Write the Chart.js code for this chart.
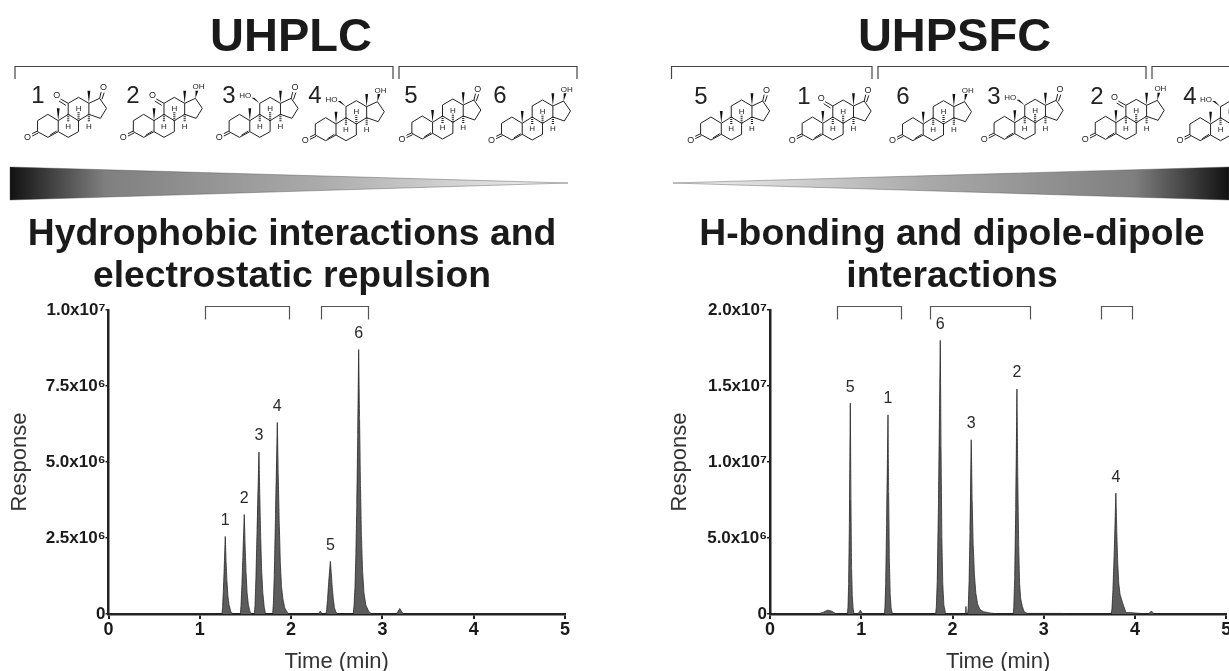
<!DOCTYPE html>
<html>
<head>
<meta charset="utf-8">
<title>UHPLC vs UHPSFC</title>
<script src="https://cdn.jsdelivr.net/npm/chart.js@4"></script>
<style>
  html, body { margin: 0; padding: 0; background: #fff; overflow: hidden; width: 1229px; height: 671px; }
  body { position: relative; font-family: "Liberation Sans", Arial, sans-serif; color: #1a1a1a; }
  #art { position: absolute; left: 0; top: 0; filter: grayscale(1); }
  .plot { position: absolute; top: 290px; width: 600px; height: 385px; }
  .head { position: absolute; text-align: center; font-weight: bold; filter: grayscale(1); }
  .big { font-size: 47px; line-height: 50px; top: 10px; }
  .sub { font-size: 37.3px; line-height: 41.5px; top: 212px; white-space: nowrap; }
</style>
</head>
<body>
<svg id="art" width="1229" height="671" xmlns="http://www.w3.org/2000/svg">
  <defs>
    <linearGradient id="fadeL" x1="0" x2="1" y1="0" y2="0">
      <stop offset="0" stop-color="#111"/>
      <stop offset="0.17" stop-color="#7f7f7f"/>
      <stop offset="0.55" stop-color="#aaa"/>
      <stop offset="0.9" stop-color="#e4e4e4"/>
      <stop offset="1" stop-color="#eee"/>
    </linearGradient>
    <linearGradient id="fadeR" x1="1" x2="0" y1="0" y2="0">
      <stop offset="0" stop-color="#111"/>
      <stop offset="0.17" stop-color="#7f7f7f"/>
      <stop offset="0.55" stop-color="#aaa"/>
      <stop offset="0.9" stop-color="#e4e4e4"/>
      <stop offset="1" stop-color="#eee"/>
    </linearGradient>
  </defs>
  <polygon points="10,167 568,183 10,200" fill="url(#fadeL)" stroke="#444" stroke-width="0.4"/>
  <polygon points="673,183 1229,167 1229,200" fill="url(#fadeR)" stroke="#444" stroke-width="0.4"/>
</svg>

<div class="head big" style="left:0;width:582px">UHPLC</div>
<div class="head big" style="left:660px;width:589px">UHPSFC</div>
<div class="head sub" style="left:0;width:584px">Hydrophobic interactions and<br>electrostatic repulsion</div>
<div class="head sub" style="left:660px;width:584px">H-bonding and dipole-dipole<br>interactions</div>

<div class="plot" style="left:0"><canvas id="lcChart" width="600" height="385"></canvas></div>
<div class="plot" style="left:660px"><canvas id="sfcChart" width="600" height="385"></canvas></div>

<script>
// response in counts, time in min
const timesLC = [0, 1.243, 1.25, 1.258, 1.266, 1.279, 1.288, 1.297, 1.308, 1.32, 1.34, 1.365,
  1.444, 1.452, 1.462, 1.472, 1.487, 1.496, 1.506, 1.518, 1.532, 1.55, 1.57,
  1.597, 1.605, 1.615, 1.628, 1.648, 1.657, 1.667, 1.678, 1.69, 1.705, 1.72,
  1.798, 1.806, 1.816, 1.83, 1.849, 1.859, 1.87, 1.882, 1.895, 1.91, 1.93, 1.96, 1.98,
  2.30, 2.32, 2.34, 2.382, 2.39, 2.40, 2.412, 2.43, 2.44, 2.45, 2.462, 2.475, 2.49, 2.51,
  2.68, 2.69, 2.70, 2.71, 2.72, 2.73, 2.74, 2.75, 2.76, 2.77, 2.783, 2.798, 2.818, 2.848, 2.88,
  3.155, 3.17, 3.19, 3.21, 3.23, 5];
const respLC = [0, 0, 250000, 750000, 1400000, 2550000, 1700000, 1100000, 600000, 300000, 80000, 0,
  0, 300000, 1000000, 1900000, 3270000, 2300000, 1400000, 700000, 300000, 80000, 0,
  0, 300000, 1200000, 2800000, 5330000, 3900000, 2500000, 1400000, 700000, 250000, 0,
  0, 350000, 1300000, 3300000, 6300000, 4600000, 3000000, 1700000, 900000, 500000, 200000, 50000, 0,
  0, 100000, 0, 0, 150000, 500000, 1050000, 1730000, 1350000, 900000, 500000, 200000, 70000, 0,
  0, 300000, 900000, 2000000, 3600000, 5900000, 8700000, 6400000, 4200000, 2600000, 1400000, 700000, 300000, 100000, 0,
  0, 80000, 180000, 80000, 0, 0];

const timesSFC = [0, 0.52, 0.58, 0.63, 0.67, 0.72, 0.76,
  0.848, 0.855, 0.862, 0.87, 0.88, 0.887, 0.894, 0.902, 0.91, 0.92,
  0.97, 0.99, 1.01, 1.03,
  1.253, 1.26, 1.268, 1.278, 1.293, 1.30, 1.308, 1.317, 1.327, 1.342,
  1.815, 1.823, 1.833, 1.847, 1.866, 1.874, 1.883, 1.893, 1.905, 1.925,
  2.143, 2.147, 2.151,
  2.165, 2.172, 2.182, 2.192, 2.205, 2.215, 2.226, 2.24, 2.255, 2.275, 2.30, 2.34, 2.42, 2.5,
  2.665, 2.672, 2.682, 2.693, 2.706, 2.715, 2.725, 2.735, 2.747, 2.765, 2.785, 2.82, 3.2, 3.3,
  3.74, 3.748, 3.758, 3.772, 3.79, 3.80, 3.81, 3.822, 3.835, 3.85, 3.865, 3.88, 3.9, 3.93, 4.05, 4.15, 4.18, 4.21, 5];
const respSFC = [0, 0, 100000, 250000, 200000, 30000, 0,
  0, 500000, 2000000, 6000000, 13870000, 7500000, 3000000, 1200000, 400000, 0,
  50000, 250000, 50000, 0,
  0, 500000, 2000000, 6000000, 13100000, 8000000, 3500000, 1300000, 400000, 0,
  0, 500000, 2200000, 7500000, 18000000, 11000000, 5000000, 2000000, 600000, 0,
  0, 500000, 0,
  0, 400000, 2200000, 5500000, 11460000, 7500000, 4600000, 2600000, 1400000, 650000, 300000, 150000, 60000, 0,
  0, 500000, 2500000, 7000000, 14800000, 9000000, 4500000, 2000000, 1000000, 500000, 150000, 40000, 40000, 0,
  0, 400000, 1600000, 4000000, 7950000, 5400000, 3400000, 2000000, 1300000, 1000000, 700000, 450000, 100000, 100000, 40000, 20000, 200000, 0, 0];

const peakNamesLC = ["1", "2", "3", "4", "5", "6"];
const peakTimesLC = [1.279, 1.487, 1.648, 1.849, 2.43, 2.74];
const peakTopsLC = [2550000, 3270000, 5330000, 6300000, 1730000, 8700000];
const peakNamesSFC = ["5", "1", "6", "3", "2", "4"];
const peakTimesSFC = [0.88, 1.293, 1.866, 2.205, 2.706, 3.79];
const peakTopsSFC = [13870000, 13100000, 18000000, 11460000, 14800000, 7950000];

const bracketsLC = [[1.062, 1.973], [2.33, 2.842]];
const bracketsSFC = [[0.738, 1.433], [1.758, 2.853], [3.627, 3.968]];

const yTicksLC = [0, 2500000, 5000000, 7500000, 10000000];
const yLabelsLC = ["0", "2.5x10⁶", "5.0x10⁶", "7.5x10⁶", "1.0x10⁷"];
const yTicksSFC = [0, 5000000, 10000000, 15000000, 20000000];
const yLabelsSFC = ["0", "5.0x10⁶", "1.0x10⁷", "1.5x10⁷", "2.0x10⁷"];
const xTicks = [0, 1, 2, 3, 4, 5];

const axisColor = "#222";
const fontName = "'Liberation Sans', Arial, sans-serif";

// peak numbers and the small brackets above each run
const peakMarks = {
  id: "peakMarks",
  afterDatasetsDraw(chart, args, opts) {
    const ctx = chart.ctx;
    const x = chart.scales.x, y = chart.scales.y;
    ctx.save();
    ctx.fillStyle = "#2a2a2a";
    ctx.font = "16px " + fontName;
    ctx.textAlign = "center";
    ctx.textBaseline = "bottom";
    opts.names.forEach((name, i) => {
      ctx.fillText(name, x.getPixelForValue(opts.times[i]), y.getPixelForValue(opts.tops[i]) - 8);
    });
    ctx.strokeStyle = "#555";
    ctx.lineWidth = 1.2;
    const top = y.top - 3.5;
    opts.brackets.forEach(b => {
      const a = Math.round(x.getPixelForValue(b[0])) + 0.5;
      const c = Math.round(x.getPixelForValue(b[1])) + 0.5;
      ctx.beginPath();
      ctx.moveTo(a, top + 13);
      ctx.lineTo(a, top);
      ctx.lineTo(c, top);
      ctx.lineTo(c, top + 13);
      ctx.stroke();
    });
    ctx.restore();
  }
};

function makeChart(id, times, resp, yMax, yTicks, yLabels, marks, axisWidth, rightPad) {
  new Chart(document.getElementById(id), {
    type: "line",
    data: {
      datasets: [{
        data: times.map((t, i) => ({ x: t, y: resp[i] })),
        borderColor: "#262626",
        borderWidth: 0.8,
        backgroundColor: "#5c5c5c",
        fill: "origin",
        pointRadius: 0,
        tension: 0.001 // tension 0 takes the fast path, which merges points in one pixel column
      }]
    },
    options: {
      responsive: false,
      animation: false,
      layout: { padding: { top: 20, right: rightPad, left: 0, bottom: 0 } },
      plugins: { legend: { display: false }, tooltip: { enabled: false }, peakMarks: marks },
      scales: {
        x: {
          type: "linear", min: 0, max: 5,
          afterFit: s => { s.height = 61; },
          afterBuildTicks: s => { s.ticks = xTicks.map(v => ({ value: v })); },
          grid: { drawOnChartArea: false, color: axisColor, lineWidth: 2, tickLength: 5 },
          border: { color: axisColor, width: 2.5 },
          ticks: { color: "#1a1a1a", font: { family: fontName, size: 18, weight: "bold" }, padding: 0, maxRotation: 0, autoSkip: false },
          title: { display: true, text: "Time (min)", color: "#333", font: { family: fontName, size: 22 }, padding: { top: 0, bottom: 0 } }
        },
        y: {
          min: 0, max: yMax,
          afterFit: s => { s.width = axisWidth; },
          afterBuildTicks: s => { s.ticks = yTicks.map(v => ({ value: v })); },
          grid: { drawOnChartArea: false, color: axisColor, lineWidth: 1.5, tickLength: 3 },
          border: { color: axisColor, width: 2.5 },
          ticks: {
            color: "#1a1a1a", font: { family: fontName, size: 17, weight: "bold" }, padding: 0, autoSkip: false,
            callback: v => yLabels[yTicks.indexOf(v)]
          },
          title: { display: true, text: "Response", color: "#333", font: { family: fontName, size: 22 }, padding: { top: 7, bottom: 0 } }
        }
      }
    },
    plugins: [peakMarks]
  });
}

makeChart("lcChart", timesLC, respLC, 10000000, yTicksLC, yLabelsLC,
  { names: peakNamesLC, times: peakTimesLC, tops: peakTopsLC, brackets: bracketsLC }, 108.5, 35);
makeChart("sfcChart", timesSFC, respSFC, 20000000, yTicksSFC, yLabelsSFC,
  { names: peakNamesSFC, times: peakTimesSFC, tops: peakTopsSFC, brackets: bracketsSFC }, 110, 33.7);

// steroid drawings above the charts, skeleton measured on the first molecule
const art = document.getElementById("art");
const NS = "http://www.w3.org/2000/svg";
function add(tag, attrs, text) {
  const el = document.createElementNS(NS, tag);
  Object.keys(attrs).forEach(k => el.setAttribute(k, attrs[k]));
  if (text) el.textContent = text;
  art.appendChild(el);
  return el;
}

const atom = {
  C3: [98, 245], C2: [98, 212], C1: [125, 193], C10: [152, 212], C5: [152, 245], C4: [125, 262],
  C6: [178, 262], C7: [205, 245], C8: [205, 212], C9: [178, 193], C14: [232, 193], C13: [232, 160],
  C12: [205, 142], C11: [178, 160], C15: [262, 205], C16: [278, 175], C17: [260, 145]
};
const bonds = [["C3", "C2"], ["C2", "C1"], ["C1", "C10"], ["C10", "C5"], ["C5", "C4"], ["C4", "C3"],
  ["C5", "C6"], ["C6", "C7"], ["C7", "C8"], ["C8", "C9"], ["C9", "C10"], ["C9", "C11"], ["C11", "C12"],
  ["C12", "C13"], ["C13", "C14"], ["C14", "C8"], ["C14", "C15"], ["C15", "C16"], ["C16", "C17"], ["C17", "C13"]];

function drawMolecule(ox, oy, id) {
  const has11 = id < 5, hydroxy11 = id === 3 || id === 4, hydroxy17 = id % 2 === 0;
  const px = (p) => [ox + p[0] / 2.61, oy + p[1] / 3];
  const line = (a, b, w) => {
    const p = px(a), q = px(b);
    add("line", { x1: p[0], y1: p[1], x2: q[0], y2: q[1], stroke: "#222", "stroke-width": w || 1 });
  };
  const wedge = (a, b) => {
    const p = px(a), q = px(b);
    add("polygon", { points: `${p[0]},${p[1]} ${q[0] - 1.4},${q[1]} ${q[0] + 1.4},${q[1]}`, fill: "#111" });
  };
  const label = (p, t, size) => {
    const q = px(p);
    add("text", { x: q[0], y: q[1] + 2.8, "text-anchor": "middle", "font-size": size || 8, fill: "#222" }, t);
  };
  const hashed = (a, b) => {
    const p = px(a), q = px(b);
    add("line", { x1: p[0], y1: p[1], x2: q[0], y2: q[1], stroke: "#222", "stroke-width": 2.2, "stroke-dasharray": "1 1" });
  };
  bonds.forEach(b => line(atom[b[0]], atom[b[1]]));
  line([84, 251], [98, 243]); line([84, 258], [100, 249]); // C3=O
  label([72, 262], "O", 9);
  line([130, 256], [148, 243]); // C4=C5
  wedge(atom.C13, [232, 122]);
  wedge(atom.C10, [152, 175]);
  hashed(atom.C9, [178, 216]); label([178, 228], "H");
  hashed(atom.C8, [205, 186]); label([205, 175], "H");
  hashed(atom.C14, [232, 216]); label([232, 228], "H");
  if (has11) {
    if (hydroxy11) {
      wedge(atom.C11, [160, 143]);
      label([140, 137], "HO");
    } else {
      line(atom.C11, [158, 147]); line([172, 166], [154, 153]);
      label([148, 137], "O", 9);
    }
  }
  if (hydroxy17) {
    wedge(atom.C17, [264, 122]);
    label([268, 110], "OH");
  } else {
    line(atom.C17, [264, 126]); line([266, 148], [272, 128]);
    label([270, 113], "O", 9);
  }
}

// top brackets, compound ids and their placement, in the same rough units as the zoomed crop
function topBracket(a, b) {
  add("polyline", { points: `${a},79 ${a},66.5 ${b},66.5 ${b},79`, fill: "none", stroke: "#444", "stroke-width": 1.2 });
}
[[15, 393], [399, 577], [671.5, 872], [878, 1146], [1152, 1240]].forEach(b => topBracket(b[0], b[1]));

const rowLC = [[1, 0, 0, 38], [2, 250, 0, 133], [3, 500, 0, 229], [4, 725, 10, 315], [5, 977, 5, 411], [6, 1211, 8, 500]];
const rowSFC = [[5, 8, 8, 701], [1, 273, 8, 804], [6, 535, 10, 903], [3, 774, 6, 994], [2, 1038, 6, 1097], [4, 1285, 10, 1190]];
rowLC.forEach(m => {
  drawMolecule(m[1] / 2.61, 50 + m[2] / 3, m[0]);
  add("text", { x: m[3], y: 103, "text-anchor": "middle", "font-size": 24, fill: "#222" }, String(m[0]));
});
rowSFC.forEach(m => {
  drawMolecule(660 + m[1] / 2.61, 50 + m[2] / 3, m[0]);
  add("text", { x: m[3], y: 104, "text-anchor": "middle", "font-size": 24, fill: "#222" }, String(m[0]));
});
</script>
</body>
</html>
